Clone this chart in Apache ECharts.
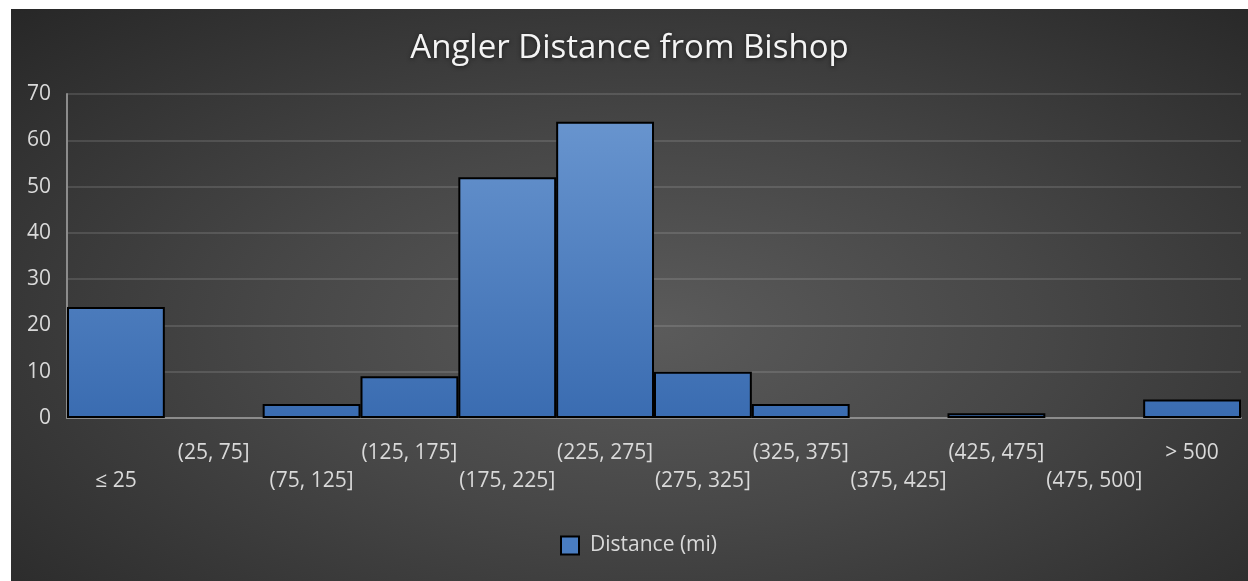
<!DOCTYPE html>
<html>
<head>
<meta charset="utf-8">
<script src="https://cdn.jsdelivr.net/npm/echarts@6/dist/echarts.min.js"></script>
<style>
  html, body { margin: 0; padding: 0; background: #ffffff; }
  #chart {
    position: absolute; left: 11px; top: 9px; width: 1237px; height: 572px;
    background: radial-gradient(ellipse farthest-corner at 52% 56%, #5b5b5b 0%, #474747 42%, #272727 100%);
  }
</style>
</head>
<body>
<div id="chart"></div>
<script>
// Histogram bins (miles from Bishop) and angler counts per bin
const categories = ['≤ 25', '(25, 75]', '(75, 125]', '(125, 175]', '(175, 225]', '(225, 275]',
                    '(275, 325]', '(325, 375]', '(375, 425]', '(425, 475]', '(475, 500]', '> 500'];
const counts = [24, 0, 3, 9, 52, 64, 10, 3, 0, 1, 0, 4];
const yTicks = { min: 0, max: 70, interval: 10 };
const seriesName = 'Distance (mi)';
const titleText = 'Angler Distance from Bishop';

const FONT = '"Open Sans", sans-serif';
const chart = echarts.init(document.getElementById('chart'), null, { renderer: 'canvas' });

const GRID = { left: 56, right: 7, top: 85, bottom: 163 };

chart.setOption({
  backgroundColor: 'transparent',
  animation: false,
  title: {
    text: titleText,
    left: 'center',
    top: 18,
    textStyle: {
      color: '#f4f4f4', fontFamily: FONT, fontSize: 33, fontWeight: 'normal',
      textShadowColor: 'rgba(0,0,0,0.55)', textShadowBlur: 4, textShadowOffsetY: 1
    }
  },
  legend: {
    data: [{ name: seriesName, itemStyle: { color: '#4a7dc1', borderColor: '#000', borderWidth: 2 } }],
    left: 544,
    top: 521,
    icon: 'rect',
    itemWidth: 18,
    itemHeight: 18,
    textStyle: { color: '#d9d9d9', fontFamily: FONT, fontSize: 21, padding: [0, 0, 0, 6] }
  },
  grid: GRID,
  xAxis: {
    type: 'category',
    data: categories,
    axisTick: { show: false },
    axisLine: { show: true, lineStyle: { color: '#8c8c8c', width: 2 } },
    axisLabel: {
      interval: 0,
      hideOverlap: false,
      margin: 21,
      color: '#d9d9d9',
      fontFamily: FONT,
      fontSize: 21,
      lineHeight: 28,
      // alternate labels drop to a second row so they don't collide
      formatter: (v, i) => (i % 2 === 0 ? '\n' + v : v)
    },
    splitLine: { show: false }
  },
  yAxis: {
    type: 'value',
    min: yTicks.min,
    max: yTicks.max,
    interval: yTicks.interval,
    axisLine: { show: true, lineStyle: { color: '#8c8c8c', width: 2 } },
    axisTick: { show: false },
    axisLabel: { color: '#d9d9d9', fontFamily: FONT, fontSize: 21, margin: 16 },
    splitLine: { lineStyle: { color: 'rgba(255,255,255,0.12)', width: 2 } }
  },
  series: [{
    name: seriesName,
    type: 'bar',
    barWidth: '100%',
    barCategoryGap: 0,
    data: counts.map(v => (v === 0 ? { value: v, itemStyle: { borderWidth: 0 } } : v)),
    itemStyle: {
      color: {
        type: 'linear', global: true,
        x: 0, y: GRID.top, x2: 0, y2: 572 - GRID.bottom,
        colorStops: [{ offset: 0, color: '#6c98d1' }, { offset: 1, color: '#3a6cb1' }]
      },
      borderColor: '#000000',
      borderWidth: 2
    }
  }]
});
</script>
</body>
</html>
